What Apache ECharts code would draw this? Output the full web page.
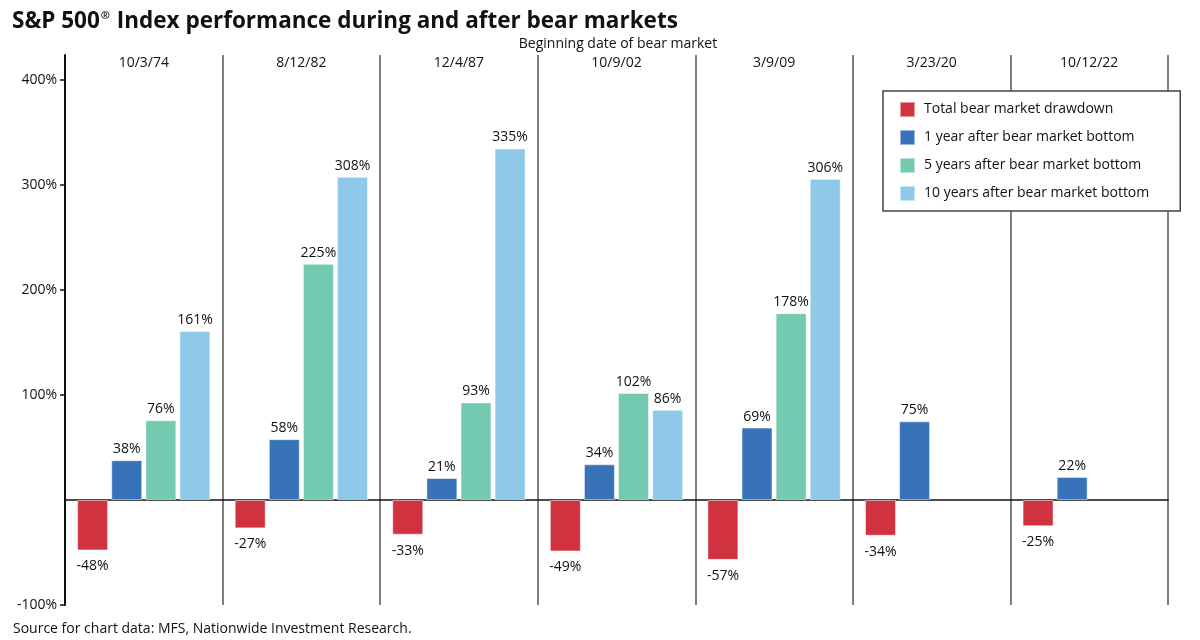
<!DOCTYPE html>
<html><head><meta charset="utf-8">
<script src="https://cdn.jsdelivr.net/npm/echarts@6/dist/echarts.min.js"></script>
<style>html,body{margin:0;padding:0;background:#fff}#c{width:1200px;height:640px}</style>
</head><body><div id="c"></div>
<script>
const categories = ['10/3/74','8/12/82','12/4/87','10/9/02','3/9/09','3/23/20','10/12/22'];
const seriesNames = ['Total bear market drawdown','1 year after bear market bottom','5 years after bear market bottom','10 years after bear market bottom'];
const drawdown = [-48,-27,-33,-49,-57,-34,-25];
const oneYear = [38,58,21,34,69,75,22];
const fiveYear = [76,225,93,102,178,null,null];
const tenYear = [161,308,335,86,306,null,null];
const yTickLabels = [-100,100,200,300,400];
const colors = ['#D0323F','#3872B8','#74C9B1','#8FC9EA'];
const FONT = 'Open Sans';

const chart = echarts.init(document.getElementById('c'));
const values = [drawdown, oneYear, fiveYear, tenYear];
chart.setOption({
  animation:false,
  textStyle:{fontFamily:FONT,color:'#111'},
  title:[
    {text:'S&P 500{sup|®} Index performance during and after bear markets',left:7,top:5,
     textStyle:{fontSize:22.5,fontWeight:'bold',color:'#111',fontFamily:FONT,
       rich:{sup:{fontSize:11,fontWeight:'bold',color:'#111',fontFamily:FONT,verticalAlign:'top',padding:[0,1,10,1]}}}},
    {text:'Beginning date of bear market',left:613,textAlign:'center',top:32,textStyle:{fontSize:14,fontWeight:'normal',color:'#111',fontFamily:FONT}},
    {text:'Source for chart data: MFS, Nationwide Investment Research.',left:8,top:617,textStyle:{fontSize:14,fontWeight:'normal',color:'#111',fontFamily:FONT}}
  ],
  legend:{
    orient:'vertical',left:883,top:91,
    padding:[10,31,9,16],itemGap:11,itemWidth:15,itemHeight:15,
    backgroundColor:'#fff',borderColor:'#444',borderWidth:1.5,borderRadius:0,
    textStyle:{fontSize:14,color:'#111',fontFamily:FONT,padding:[0,0,0,4]},
    icon:'rect',
    data:seriesNames
  },
  grid:{left:65,right:32,top:55,bottom:35},
  xAxis:[
    {type:'category',data:categories,position:'bottom',
     axisLine:{onZero:true,lineStyle:{color:'#111',width:1.5}},
     axisTick:{show:false},axisLabel:{show:false},
     splitLine:{show:true,lineStyle:{color:'#555',width:1.5}}},
    {type:'category',data:categories,position:'top',
     axisLine:{show:false},axisTick:{show:false},
     axisLabel:{inside:true,margin:1,fontSize:14,color:'#111',fontFamily:FONT},
     splitLine:{show:false}}
  ],
  yAxis:{type:'value',min:-100,max:424,interval:100,
    axisLine:{show:true,lineStyle:{color:'#111',width:2}},
    axisTick:{show:true,length:5,lineStyle:{color:'#111',width:1.5},customValues:yTickLabels},
    axisLabel:{fontSize:14,color:'#111',fontFamily:FONT,margin:8,customValues:yTickLabels,formatter:v=>v+'%'},
    splitLine:{show:false}
  },
  series:values.map((d,i)=>({
    name:seriesNames[i],type:'bar',data:d,barWidth:31,barGap:'10%',
    itemStyle:{color:colors[i],borderColor:'rgba(255,255,255,0.5)',borderWidth:1},
    label:{show:true,position:i===0?'bottom':'top',distance:i===0?9:4,fontSize:14,color:'#111',fontFamily:FONT,formatter:p=>p.value==null?'':p.value+'%'}
  }))
});
</script></body></html>
